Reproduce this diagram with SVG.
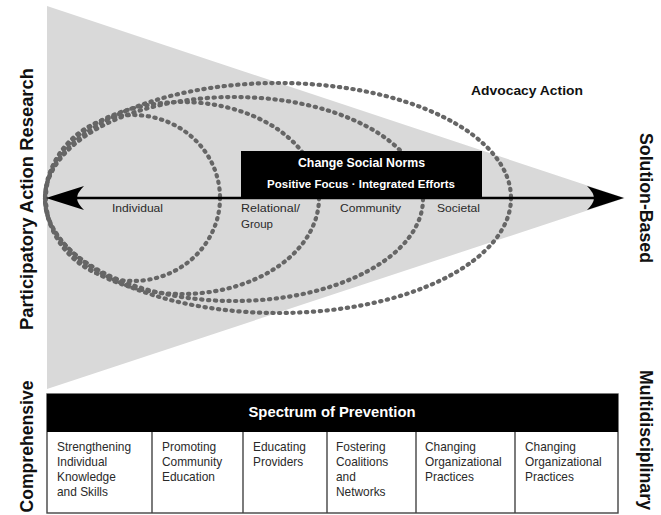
<svg xmlns="http://www.w3.org/2000/svg" width="661" height="515" viewBox="0 0 661 515">
<defs>
<style>
text{font-family:"Liberation Sans",Arial,sans-serif}
.side{font-size:17.5px;font-weight:bold;fill:#111}
.lbl{font-size:11.5px;fill:#2a2a2a}
.cell{font-size:11.9px;fill:#2a2a2a}
.hdr{font-weight:bold;fill:#fff}
.dot{fill:none;stroke:#666;stroke-width:4.2;stroke-linecap:round;stroke-dasharray:1.3 5.5}
.grid{fill:none;stroke:#444;stroke-width:1.4}
</style>
</defs>
<rect width="661" height="515" fill="#fff"/>
<polygon id="funnel" points="47,6 625,198 47,389" fill="#d9d9d9"/>

<g id="ring-individual"><ellipse class="dot" cx="133" cy="198" rx="87" ry="83"/></g>
<g id="ring-relational"><ellipse class="dot" cx="182" cy="198" rx="137" ry="96"/></g>
<g id="ring-community"><ellipse class="dot" cx="234" cy="199" rx="189" ry="102"/></g>
<g id="ring-societal"><ellipse class="dot" cx="278" cy="198" rx="233" ry="115"/></g>

<g id="norms-box">
<rect x="241" y="151" width="241" height="47" fill="#000"/>
<text class="hdr" x="361.5" y="167" text-anchor="middle" font-size="12" textLength="127" lengthAdjust="spacingAndGlyphs">Change Social Norms</text>
<text class="hdr" x="361" y="188" text-anchor="middle" font-size="11.5" textLength="188" lengthAdjust="spacingAndGlyphs">Positive Focus · Integrated Efforts</text>
</g>

<g id="connectors">
<line x1="70" y1="198" x2="600" y2="198" stroke="#000" stroke-width="2.6"/>
<path d="M46,198 L84,186 Q77,193 77,198 Q77,203 84,210 Z" fill="#000"/>
<path d="M624,198 L587,186 Q594,193 594,198 Q594,203 587,210 Z" fill="#000"/>
</g>

<g id="level-labels">
<text class="lbl" x="112" y="212" textLength="51" lengthAdjust="spacingAndGlyphs">Individual</text>
<text class="lbl" x="241" y="212" textLength="59" lengthAdjust="spacingAndGlyphs">Relational/</text>
<text class="lbl" x="241" y="228" textLength="32" lengthAdjust="spacingAndGlyphs">Group</text>
<text class="lbl" x="340" y="212" textLength="61" lengthAdjust="spacingAndGlyphs">Community</text>
<text class="lbl" x="437" y="212" textLength="43" lengthAdjust="spacingAndGlyphs">Societal</text>
</g>

<g id="advocacy">
<text x="471" y="95" font-size="13.5" font-weight="bold" fill="#111" textLength="112" lengthAdjust="spacingAndGlyphs">Advocacy Action</text>
</g>

<g id="side-labels">
<text class="side" transform="translate(33,199) rotate(-90)" text-anchor="middle" textLength="262" lengthAdjust="spacingAndGlyphs">Participatory Action Research</text>
<text class="side" transform="translate(33,446.5) rotate(-90)" text-anchor="middle" textLength="132" lengthAdjust="spacingAndGlyphs">Comprehensive</text>
<text class="side" transform="translate(640,198) rotate(90)" text-anchor="middle" textLength="130" lengthAdjust="spacingAndGlyphs">Solution-Based</text>
<text class="side" transform="translate(640,440) rotate(90)" text-anchor="middle" textLength="140" lengthAdjust="spacingAndGlyphs">Multidisciplinary</text>
</g>

<g id="spectrum-table">
<rect x="47" y="394" width="571" height="119" fill="#fff" class="grid"/>
<rect x="47" y="394" width="571" height="38" fill="#000"/>
<text class="hdr" x="332" y="417" text-anchor="middle" font-size="15" textLength="167" lengthAdjust="spacingAndGlyphs">Spectrum of Prevention</text>
<line class="grid" x1="152" y1="432" x2="152" y2="513"/>
<line class="grid" x1="243" y1="432" x2="243" y2="513"/>
<line class="grid" x1="327" y1="432" x2="327" y2="513"/>
<line class="grid" x1="416" y1="432" x2="416" y2="513"/>
<line class="grid" x1="515" y1="432" x2="515" y2="513"/>
</g>

<g id="cell-1">
<text class="cell" x="57" y="451">Strengthening</text>
<text class="cell" x="57" y="466">Individual</text>
<text class="cell" x="57" y="481">Knowledge</text>
<text class="cell" x="57" y="496">and Skills</text>
</g>
<g id="cell-2">
<text class="cell" x="162" y="451">Promoting</text>
<text class="cell" x="162" y="466">Community</text>
<text class="cell" x="162" y="481">Education</text>
</g>
<g id="cell-3">
<text class="cell" x="253" y="451">Educating</text>
<text class="cell" x="253" y="466">Providers</text>
</g>
<g id="cell-4">
<text class="cell" x="336" y="451">Fostering</text>
<text class="cell" x="336" y="466">Coalitions</text>
<text class="cell" x="336" y="481">and</text>
<text class="cell" x="336" y="496">Networks</text>
</g>
<g id="cell-5">
<text class="cell" x="425" y="451">Changing</text>
<text class="cell" x="425" y="466">Organizational</text>
<text class="cell" x="425" y="481">Practices</text>
</g>
<g id="cell-6">
<text class="cell" x="525" y="451">Changing</text>
<text class="cell" x="525" y="466">Organizational</text>
<text class="cell" x="525" y="481">Practices</text>
</g>
</svg>
